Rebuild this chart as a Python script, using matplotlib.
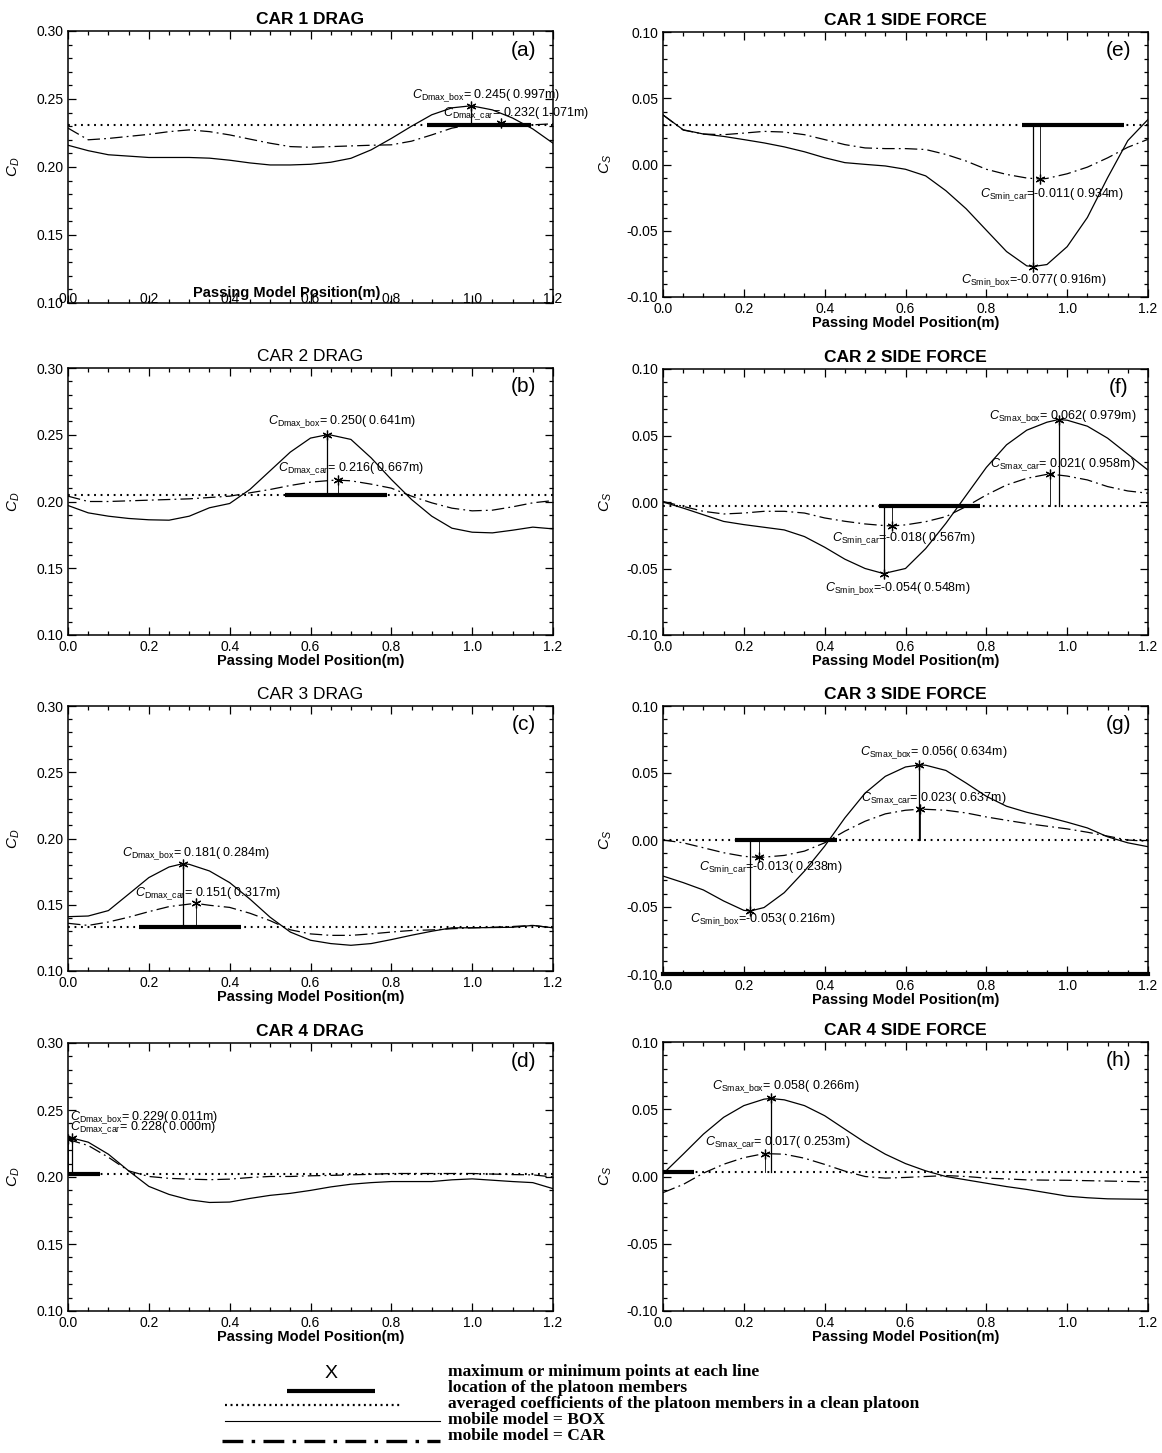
import numpy as np
import matplotlib
matplotlib.use("Agg")
import matplotlib.pyplot as plt
from matplotlib.ticker import MultipleLocator, FormatStrFormatter

plt.rcParams['font.family'] = ['Liberation Sans', 'DejaVu Sans']
plt.rcParams['mathtext.fontset'] = 'custom'
plt.rcParams['mathtext.rm'] = 'Liberation Sans'
plt.rcParams['mathtext.it'] = 'Liberation Sans:italic'
plt.rcParams['lines.scale_dashes'] = False

# passing model position (m), common sampling of all curves
POS = np.round(np.arange(0.0, 1.2001, 0.05), 2)

# ---- drag coefficients C_D -------------------------------------------------
CAR1_DRAG_BOX = [0.216, 0.212, 0.209, 0.208, 0.207, 0.207, 0.207, 0.2065, 0.205, 0.203,
                 0.2015, 0.2015, 0.202, 0.2035, 0.2064, 0.2126, 0.221, 0.230, 0.2384, 0.2435,
                 0.2449, 0.242, 0.236, 0.228, 0.2175]
CAR1_DRAG_CAR = [0.2286, 0.220, 0.221, 0.2225, 0.224, 0.226, 0.2273, 0.226, 0.2236, 0.2205,
                 0.2175, 0.215, 0.2145, 0.215, 0.2155, 0.216, 0.2163, 0.219, 0.2236, 0.2286,
                 0.2312, 0.2318, 0.2315, 0.231, 0.2318]
CAR2_DRAG_BOX = [0.197, 0.1915, 0.189, 0.1873, 0.1863, 0.186, 0.189, 0.1953, 0.1985, 0.209,
                 0.223, 0.237, 0.2475, 0.2498, 0.2465, 0.2327, 0.2165, 0.2015, 0.189, 0.180,
                 0.177, 0.1765, 0.1785, 0.1808, 0.1795]
CAR2_DRAG_CAR = [0.204, 0.200, 0.200, 0.2005, 0.201, 0.2015, 0.202, 0.203, 0.204, 0.2065,
                 0.209, 0.212, 0.2145, 0.2158, 0.2155, 0.213, 0.210, 0.204, 0.199, 0.195,
                 0.193, 0.1935, 0.196, 0.199, 0.2007]
CAR3_DRAG_BOX = [0.141, 0.1415, 0.1456, 0.158, 0.1705, 0.1785, 0.1805, 0.1755, 0.1667, 0.1543,
                 0.1406, 0.1294, 0.1232, 0.1207, 0.1194, 0.1207, 0.1237, 0.127, 0.130, 0.1326,
                 0.1326, 0.1328, 0.133, 0.1344, 0.1326]
CAR3_DRAG_CAR = [0.136, 0.1344, 0.137, 0.1406, 0.1448, 0.1486, 0.1505, 0.1496, 0.148, 0.1436,
                 0.138, 0.1311, 0.128, 0.1269, 0.1269, 0.128, 0.1294, 0.1306, 0.131, 0.1319,
                 0.1326, 0.133, 0.1336, 0.1344, 0.1326]
CAR4_DRAG_BOX = [0.2285, 0.226, 0.217, 0.2046, 0.193, 0.187, 0.183, 0.181, 0.1813, 0.184,
                 0.1863, 0.1878, 0.190, 0.1926, 0.1946, 0.1958, 0.1966, 0.1966, 0.1966, 0.1979,
                 0.1986, 0.1976, 0.1966, 0.1958, 0.1913]
CAR4_DRAG_CAR = [0.228, 0.2235, 0.2147, 0.2046, 0.2004, 0.199, 0.1984, 0.198, 0.1984, 0.1996,
                 0.2004, 0.2004, 0.2009, 0.2012, 0.2016, 0.202, 0.2026, 0.2026, 0.2026, 0.2026,
                 0.2026, 0.2022, 0.2018, 0.2016, 0.200]

# ---- side force coefficients C_S -------------------------------------------
CAR1_SIDE_BOX = [0.0374, 0.0262, 0.023, 0.0212, 0.0188, 0.0163, 0.0133, 0.0096, 0.0051, 0.0014,
                 0.0001, -0.0011, -0.0036, -0.0086, -0.0198, -0.0334, -0.0496, -0.0657, -0.0765, -0.0755,
                 -0.062, -0.040, -0.010, 0.018, 0.034]
CAR1_SIDE_CAR = [0.0374, 0.026, 0.023, 0.0225, 0.0237, 0.025, 0.0245, 0.0225, 0.0188, 0.015,
                 0.0125, 0.012, 0.012, 0.0113, 0.0076, 0.0026, -0.0036, -0.0075, -0.0102, -0.0105,
                 -0.007, -0.002, 0.005, 0.013, 0.019]
CAR2_SIDE_BOX = [0.000, -0.0046, -0.0096, -0.0146, -0.017, -0.019, -0.021, -0.026, -0.034, -0.043,
                 -0.050, -0.0535, -0.050, -0.035, -0.016, 0.005, 0.026, 0.043, 0.054, 0.060,
                 0.0615, 0.057, 0.048, 0.036, 0.024]
CAR2_SIDE_CAR = [0.0004, -0.0033, -0.007, -0.009, -0.0083, -0.007, -0.007, -0.0083, -0.012, -0.0145,
                 -0.0165, -0.0178, -0.0172, -0.0148, -0.011, -0.0034, 0.0053, 0.0128, 0.0178, 0.0208,
                 0.0195, 0.0166, 0.0116, 0.0083, 0.0066]
CAR3_SIDE_BOX = [-0.0269, -0.0318, -0.0373, -0.0455, -0.0525, -0.0504, -0.0393, -0.0232, -0.0046, 0.0165,
                 0.035, 0.0475, 0.0545, 0.0558, 0.0519, 0.0425, 0.0326, 0.0252, 0.0207, 0.0172,
                 0.0133, 0.009, 0.0024, -0.0021, -0.005]
CAR3_SIDE_CAR = [0.000, -0.0021, -0.0058, -0.0095, -0.0122, -0.0128, -0.0115, -0.0083, -0.0021, 0.0066,
                 0.014, 0.0195, 0.0222, 0.0229, 0.0222, 0.0202, 0.0172, 0.0147, 0.0123, 0.0103,
                 0.0083, 0.0058, 0.0029, 0.000, -0.001]
CAR4_SIDE_BOX = [0.002, 0.0166, 0.0315, 0.044, 0.0527, 0.0575, 0.057, 0.0527, 0.0452, 0.0352,
                 0.0253, 0.0166, 0.0096, 0.0042, 0.000, -0.0025, -0.005, -0.0075, -0.0096, -0.0121,
                 -0.0146, -0.0158, -0.0166, -0.0168, -0.017]
CAR4_SIDE_CAR = [-0.012, -0.0059, 0.0025, 0.0091, 0.014, 0.017, 0.0166, 0.0136, 0.009, 0.004,
                 0.000, -0.0012, -0.0007, 0.000, 0.0007, 0.000, -0.0012, -0.0018, -0.0025, -0.0027,
                 -0.0028, -0.0031, -0.0034, -0.0037, -0.004]

# averaged coefficients of the clean platoon
AVG_DRAG = [0.231, 0.2045, 0.133, 0.202]
AVG_SIDE = [0.030, -0.003, 0.000, 0.003]

# location of the platoon member (start, end) in passing model position
PLATOON_DRAG = [(0.889, 1.145), (0.538, 0.790), (0.176, 0.429), (0.000, 0.080)]
PLATOON_SIDE = [(0.888, 1.141), (0.534, 0.785), (0.177, 0.430), (0.000, 0.077)]

# extreme points: (model, name, position, value)
PEAKS_DRAG = [
    [("box", "Dmax_box", 0.997, 0.245), ("car", "Dmax_car", 1.071, 0.232)],
    [("box", "Dmax_box", 0.641, 0.250), ("car", "Dmax_car", 0.667, 0.216)],
    [("box", "Dmax_box", 0.284, 0.181), ("car", "Dmax_car", 0.317, 0.151)],
    [("box", "Dmax_box", 0.011, 0.229), ("car", "Dmax_car", 0.000, 0.228)],
]
PEAKS_SIDE = [
    [("car", "Smin_car", 0.934, -0.011), ("box", "Smin_box", 0.916, -0.077)],
    [("box", "Smax_box", 0.979, 0.062), ("car", "Smax_car", 0.958, 0.021),
     ("car", "Smin_car", 0.567, -0.018), ("box", "Smin_box", 0.548, -0.054)],
    [("box", "Smax_box", 0.634, 0.056), ("car", "Smax_car", 0.637, 0.023),
     ("car", "Smin_car", 0.238, -0.013), ("box", "Smin_box", 0.216, -0.053)],
    [("box", "Smax_box", 0.266, 0.058), ("car", "Smax_car", 0.253, 0.017)],
]

TITLES_DRAG = ["CAR 1 DRAG", "CAR 2 DRAG", "CAR 3 DRAG", "CAR 4 DRAG"]
TITLES_SIDE = ["CAR 1 SIDE FORCE", "CAR 2 SIDE FORCE", "CAR 3 SIDE FORCE", "CAR 4 SIDE FORCE"]
LETTERS_DRAG = ["(a)", "(b)", "(c)", "(d)"]
LETTERS_SIDE = ["(e)", "(f)", "(g)", "(h)"]

LEGEND_TEXT = ["maximum or minimum points at each line",
               "location of the platoon members",
               "averaged coefficients of the platoon members in a clean platoon",
               "mobile model = BOX",
               "mobile model = CAR"]

# ---- layout (pixels of a 1162 x 1453 canvas) -------------------------------
W, H = 1162, 1453
COL_X = [68, 663]
AX_W = 485
ROWS_DRAG = [(31, 303), (368, 635), (706, 971), (1043, 1311)]
ROWS_SIDE = [(32, 297), (369, 635), (706, 974), (1042, 1311)]
# label anchor (x, y) in data coordinates, in the same order as the peaks
LABEL_AT_DRAG = [
    [(0.850, 0.2525), (0.927, 0.2395)],
    [(0.495, 0.2594), (0.519, 0.2244)],
    [(0.133, 0.1887), (0.167, 0.1580)],
    [(0.004, 0.2445), (0.004, 0.2370)],
]
LABEL_AT_SIDE = [
    [(0.784, -0.0230), (0.738, -0.0880)],
    [(0.806, 0.0640), (0.810, 0.0278), (0.417, -0.0275), (0.400, -0.0650)],
    [(0.487, 0.0648), (0.489, 0.0306), (0.090, -0.0207), (0.068, -0.0596)],
    [(0.120, 0.0664), (0.104, 0.0253)],
]

CAR_DASH = (0, (9, 3, 1.3, 3))
AVG_DOTS = (0, (1.3, 3.4))

fig = plt.figure(figsize=(W / 100, H / 100), dpi=100)


def add_axes_px(x0, top, bottom):
    return fig.add_axes([x0 / W, 1 - bottom / H, AX_W / W, (bottom - top) / H])


def curve_with_extremes(values, model, peaks):
    """Sampled curve with its labelled extreme points merged in."""
    xs, ys = list(POS), list(values)
    for (m, name, px, py) in peaks:
        if m != model:
            continue
        hit = [k for k, x in enumerate(xs) if abs(x - px) < 1e-6]
        if hit:
            ys[hit[0]] = py
        else:
            k = int(np.searchsorted(xs, px))
            xs.insert(k, px)
            ys.insert(k, py)
    return xs, ys


def draw_panel(ax, box, car, avg, span, peaks, label_at, kind):
    ax.plot(*curve_with_extremes(box, "box", peaks), color="black", lw=0.9, zorder=3)
    ax.plot(*curve_with_extremes(car, "car", peaks), color="black", lw=0.9,
            ls=CAR_DASH, zorder=3)
    ax.plot([POS[0], POS[-1]], [avg, avg], color="black", lw=1.5, ls=AVG_DOTS, zorder=2)
    ax.plot(span, [avg, avg], color="black", lw=3.0, solid_capstyle="butt", zorder=4)

    for (m, name, px, py), (lx, ly) in zip(peaks, label_at):
        ax.plot([px, px], [avg, py], color="black",
                lw=0.9 if m == "box" else 0.6, zorder=3)
        ax.plot([px], [py], marker=(6, 2, 0), ms=7, mew=0.9, color="black", zorder=5)
        txt = r"$C_{\rm %s}$" % name.replace("_", r"\_") + "=%6.3f(%6.3fm)" % (py, px)
        ax.text(lx, ly, txt, fontsize=9, ha="left", va="center", zorder=6, clip_on=False)

    ax.set_xlim(0.0, 1.2)
    if kind == "drag":
        ax.set_ylim(0.10, 0.30)
    else:
        ax.set_ylim(-0.10, 0.10)
    ax.xaxis.set_major_locator(MultipleLocator(0.2))
    ax.xaxis.set_minor_locator(MultipleLocator(0.05))
    ax.yaxis.set_major_locator(MultipleLocator(0.05))
    ax.yaxis.set_minor_locator(MultipleLocator(0.01))
    ax.xaxis.set_major_formatter(FormatStrFormatter("%.1f"))
    ax.yaxis.set_major_formatter(FormatStrFormatter("%.2f"))
    ax.tick_params(which="both", direction="in", top=True, right=True,
                   labelsize=10, width=0.9)
    ax.tick_params(which="major", length=6)
    ax.tick_params(which="minor", length=3)
    for sp in ax.spines.values():
        sp.set_linewidth(1.1)


for i in range(4):
    ax = add_axes_px(COL_X[0], *ROWS_DRAG[i])
    draw_panel(ax, [CAR1_DRAG_BOX, CAR2_DRAG_BOX, CAR3_DRAG_BOX, CAR4_DRAG_BOX][i],
               [CAR1_DRAG_CAR, CAR2_DRAG_CAR, CAR3_DRAG_CAR, CAR4_DRAG_CAR][i],
               AVG_DRAG[i], PLATOON_DRAG[i], PEAKS_DRAG[i], LABEL_AT_DRAG[i], "drag")
    ax.set_title(TITLES_DRAG[i], fontsize=12.5,
                 fontweight="bold" if i in (0, 3) else "normal", pad=5)
    ax.text(0.94, 0.93, LETTERS_DRAG[i], transform=ax.transAxes, fontsize=15,
            ha="center", va="center")
    ax.set_ylabel(r"$C_D$", fontsize=11)
    ax.yaxis.set_label_coords(-0.095, 0.5)
    ax.set_xlabel("Passing Model Position(m)", fontsize=10.5, fontweight="bold", labelpad=0)
    if i == 0:
        # first panel: axis numbers and axis name printed on the frame itself
        ax.tick_params(axis="x", which="major", pad=-8)
        ax.xaxis.set_label_coords(0.45, 0.035)
        ax.xaxis.label.set_va("center")

    ax = add_axes_px(COL_X[1], *ROWS_SIDE[i])
    draw_panel(ax, [CAR1_SIDE_BOX, CAR2_SIDE_BOX, CAR3_SIDE_BOX, CAR4_SIDE_BOX][i],
               [CAR1_SIDE_CAR, CAR2_SIDE_CAR, CAR3_SIDE_CAR, CAR4_SIDE_CAR][i],
               AVG_SIDE[i], PLATOON_SIDE[i], PEAKS_SIDE[i], LABEL_AT_SIDE[i], "side")
    ax.set_title(TITLES_SIDE[i], fontsize=12.5, fontweight="bold", pad=5)
    ax.text(0.94, 0.93, LETTERS_SIDE[i], transform=ax.transAxes, fontsize=15,
            ha="center", va="center")
    ax.set_ylabel(r"$C_S$", fontsize=11)
    ax.yaxis.set_label_coords(-0.10, 0.5)
    ax.set_xlabel("Passing Model Position(m)", fontsize=10.5, fontweight="bold", labelpad=0)
    if i == 2:
        ax.spines["bottom"].set_linewidth(3.0)

# ---- key below the panels --------------------------------------------------
lax = fig.add_axes([0, 0, 1, 125 / H])
lax.set_xlim(0, W)
lax.set_ylim(H, H - 125)
lax.axis("off")
lax.text(331, 1373, "X", fontsize=14, ha="center", va="center")
lax.plot([287, 375], [1391, 1391], color="black", lw=3.0, solid_capstyle="butt")
lax.plot([225, 402], [1405, 1405], color="black", lw=1.6, ls=(0, (1.4, 2.6)))
lax.plot([225, 440], [1421, 1421], color="black", lw=0.8)
lax.plot([222, 440], [1441, 1441], color="black", lw=2.4, ls=(0, (15, 6, 2.5, 6)))
for txt, yy in zip(LEGEND_TEXT, [1372, 1388, 1404, 1420, 1436]):
    lax.text(448, yy, txt, fontsize=12.5, fontweight="bold", ha="left", va="center",
             family=["Liberation Serif", "DejaVu Serif"])

fig.savefig("out.png", dpi=100)
